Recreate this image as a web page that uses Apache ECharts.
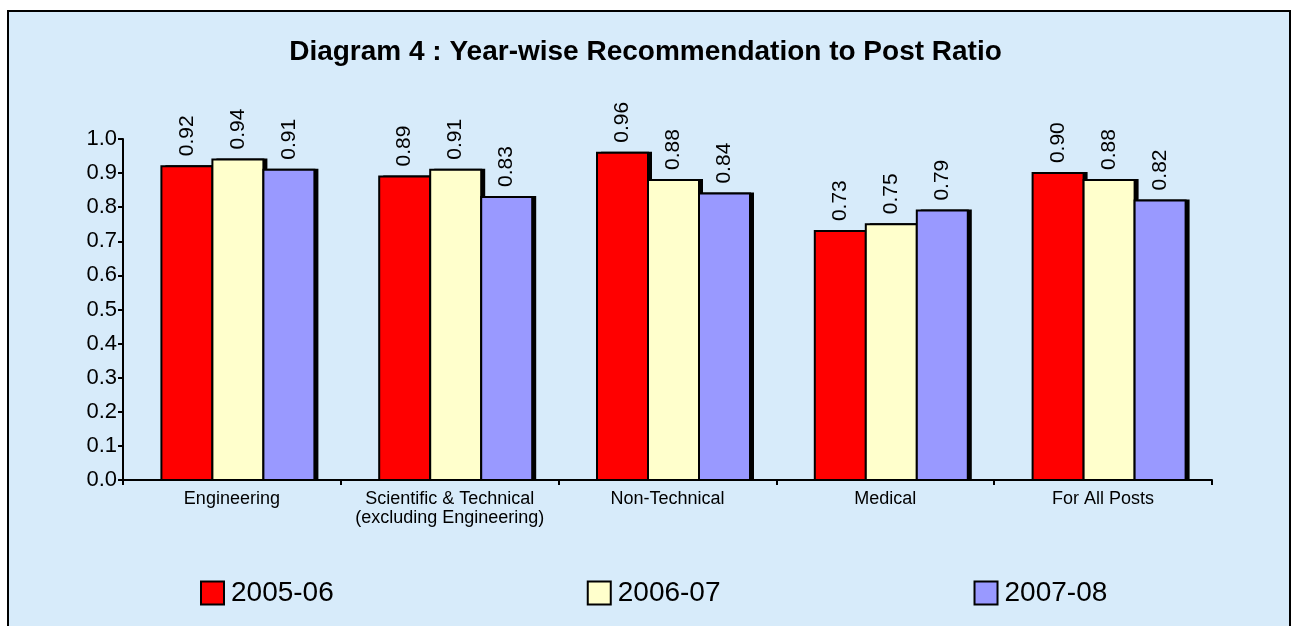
<!DOCTYPE html>
<html>
<head>
<meta charset="utf-8">
<script src="https://cdn.jsdelivr.net/npm/echarts@6/dist/echarts.min.js"></script>
<style>
  html, body { margin: 0; padding: 0; background: #fff; }
  #chart { width: 1291px; height: 626px; }
</style>
</head>
<body>
<div id="chart"></div>
<script>
const categories = ['Engineering', 'Scientific & Technical\n(excluding Engineering)', 'Non-Technical', 'Medical', 'For All Posts']
const years = ['2005-06', '2006-07', '2007-08']
const ratio0506 = [0.92, 0.89, 0.96, 0.73, 0.90]
const ratio0607 = [0.94, 0.91, 0.88, 0.75, 0.88]
const ratio0708 = [0.91, 0.83, 0.84, 0.79, 0.82]
const colors = ['#FF0000', '#FFFFCC', '#9999FF']

const font = 'Liberation Sans, Arial, sans-serif'
const barW = 51
const chart = echarts.init(document.getElementById('chart'))

// bars are drawn by hand so the black drop shadow only sits behind the fill
function bar(idx, data) {
  return {
    name: years[idx],
    type: 'custom',
    itemStyle: { color: colors[idx] },
    encode: { x: 0, y: 1 },
    data: data.map((v, i) => [i, v]),
    renderItem(params, api) {
      const top = api.coord([api.value(0), api.value(1)])
      const base = api.coord([api.value(0), 0])
      const x = top[0] - barW * 1.5 + 6 + idx * barW
      const h = base[1] - top[1]
      return {
        type: 'group',
        children: [
          { type: 'rect', shape: { x: x + 4, y: top[1] - 1, width: barW, height: h + 1 }, style: { fill: '#000' } },
          { type: 'rect', shape: { x: x, y: top[1], width: barW, height: h }, style: { fill: colors[idx], stroke: '#000', lineWidth: 2 } },
          {
            type: 'text',
            x: x + barW / 2,
            y: top[1] - 10,
            rotation: Math.PI / 2,
            style: {
              text: api.value(1).toFixed(2),
              font: '21px ' + font,
              fill: '#000',
              align: 'left',
              verticalAlign: 'middle'
            }
          }
        ]
      }
    }
  }
}

chart.setOption({
  animation: false,
  textStyle: { fontFamily: font },
  graphic: [{
    type: 'rect',
    z: -10,
    shape: { x: 8, y: 11, width: 1282, height: 640 },
    style: { fill: '#D7EBFA', stroke: '#000', lineWidth: 2 }
  }],
  title: {
    text: 'Diagram 4 : Year-wise Recommendation to Post Ratio',
    left: 'center',
    top: 33,
    textStyle: { fontFamily: font, fontSize: 28, fontWeight: 'bold', color: '#000' }
  },
  legend: {
    data: years,
    left: 195,
    top: 574,
    itemWidth: 23,
    itemHeight: 23,
    itemGap: 253,
    icon: 'rect',
    itemStyle: { borderColor: '#000', borderWidth: 2 },
    textStyle: { fontFamily: font, fontSize: 28, color: '#000', padding: [0, 0, 0, 2] }
  },
  grid: { left: 123, right: 79, top: 139, bottom: 146 },
  xAxis: {
    type: 'category',
    data: categories,
    axisLine: { lineStyle: { color: '#000', width: 2 } },
    axisTick: { show: true, interval: 0, alignWithLabel: false, length: 5, lineStyle: { color: '#000', width: 2 } },
    axisLabel: { interval: 0, fontFamily: font, fontSize: 18, color: '#000', margin: 10, lineHeight: 19 }
  },
  yAxis: {
    type: 'value',
    min: 0,
    max: 1,
    interval: 0.1,
    splitLine: { show: false },
    axisLine: { show: true, lineStyle: { color: '#000', width: 2 } },
    axisTick: { show: true, length: 5, lineStyle: { color: '#000', width: 2 } },
    axisLabel: { fontFamily: font, fontSize: 22, color: '#000', margin: 6, formatter: v => v.toFixed(1) }
  },
  series: [
    bar(0, ratio0506),
    bar(1, ratio0607),
    bar(2, ratio0708)
  ]
})
</script>
</body>
</html>
